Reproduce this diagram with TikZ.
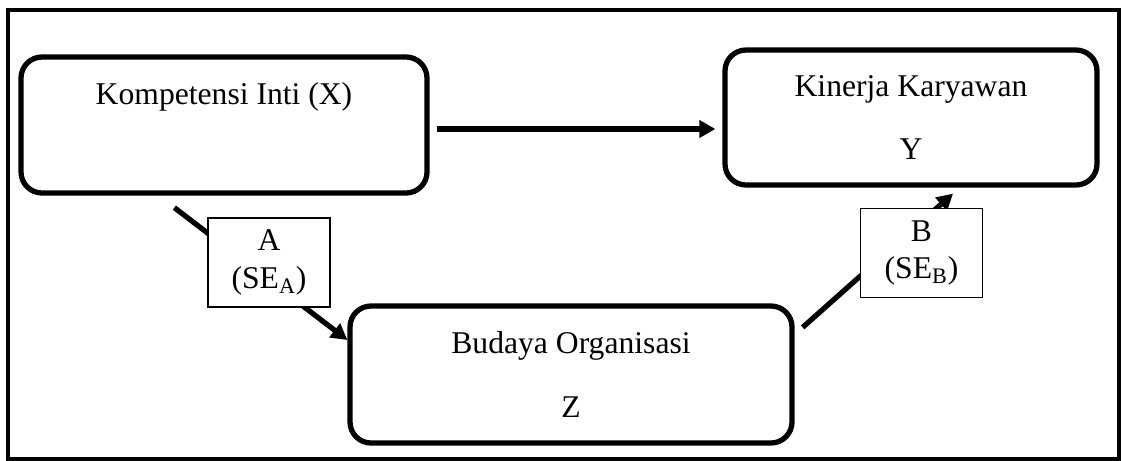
\documentclass[tikz,border=0pt]{standalone}
\usepackage{fontspec}
\setmainfont{Liberation Serif}
\usetikzlibrary{arrows.meta}

\begin{document}
\begin{tikzpicture}[scale=1.0]
\useasboundingbox (0,0) rectangle (22.44,9.2);
\tikzstyle{var}=[draw, rounded corners=0.42cm, line width=3pt, align=center, font=\fontsize{18}{22}\selectfont];
\tikzstyle{coef}=[draw, fill=white, line width=0.8pt, align=center, minimum width=2.44cm, minimum height=1.78cm, font=\fontsize{18}{21.5}\selectfont];
\tikzstyle{link}=[line width=3pt, -{Triangle[length=0.32cm,width=0.34cm]}];

% outer frame
\draw[line width=2.4pt] (0.16,0.02) rectangle (22.38,9.0);

% variables
\draw (4.48,6.70) node[var, minimum width=8.12cm, minimum height=2.72cm] (v1) {};
\draw (v1.center) ++(0,0.56) node[font=\fontsize{18}{22}\selectfont] (t1) {Kompetensi Inti (X)};
\draw (18.22,6.85) node[var, minimum width=7.44cm, minimum height=2.70cm] (v2) {Kinerja Karyawan\\[14pt]Y};
\draw (11.42,1.71) node[var, minimum width=8.84cm, minimum height=2.74cm] (v3) {Budaya Organisasi\\[14pt]Z};

% direct path X -> Y
\draw[link, shorten <=0.14cm, shorten >=0.14cm] ([yshift=-0.08cm]v1.east) -- ([yshift=-0.08cm]v1.east -| v2.west);

% X -> Z and Z -> Y
\coordinate (a0) at ([xshift=3.12cm,yshift=-0.24cm]v1.south west);
\coordinate (a1) at ([yshift=0.69cm]v3.west);
\draw[link] (a0) -- (a1);
\coordinate (b0) at ([xshift=0.16cm,yshift=-0.48cm]v3.north east);
\coordinate (b1) at ([xshift=0.84cm,yshift=-0.12cm]v2.south);
\draw[link] (b0) -- (b1);

% coefficients
\draw (5.38,3.95) node[coef] (p1) {A\\(SE\textsubscript{A})};
\draw (18.43,4.14) node[coef] (p2) {B\\(SE\textsubscript{B})};
\end{tikzpicture}
\end{document}
